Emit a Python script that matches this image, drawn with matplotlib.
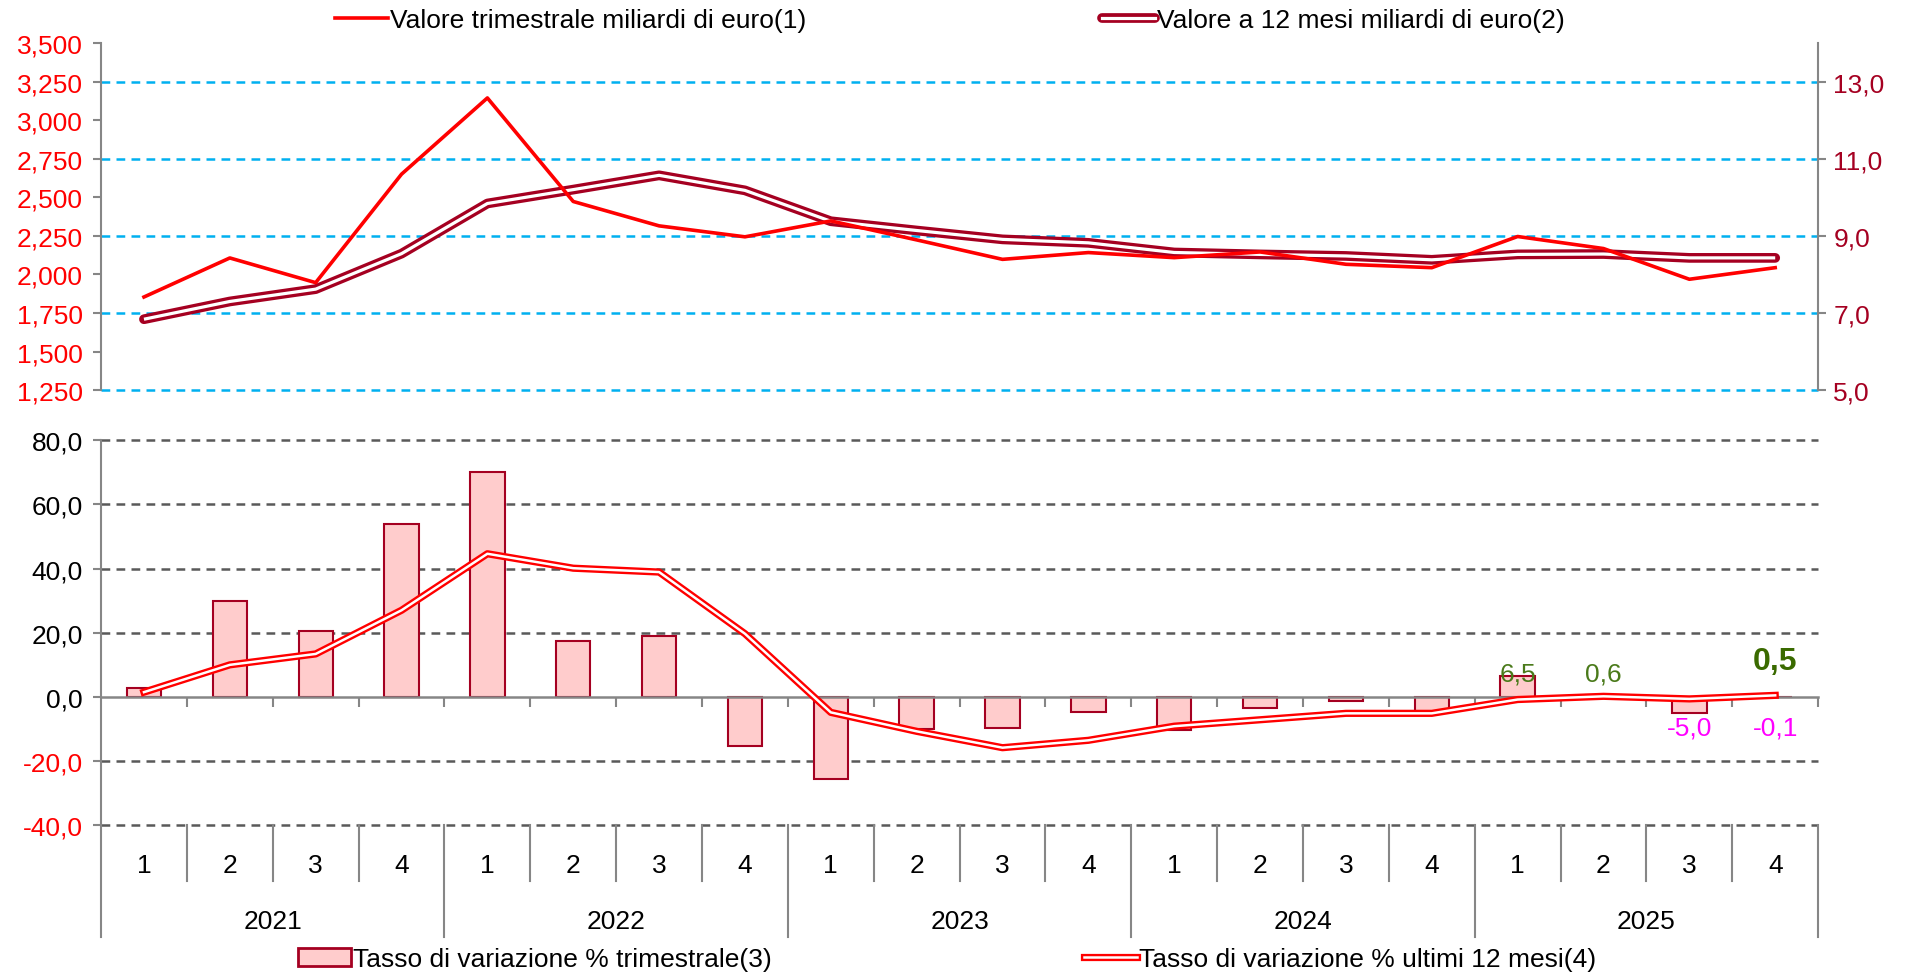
import numpy as np
import matplotlib
matplotlib.use('Agg')
import matplotlib.pyplot as plt
import matplotlib.transforms as mtransforms
from matplotlib.lines import Line2D
from matplotlib.patches import Patch
from matplotlib.ticker import FixedLocator, FuncFormatter

plt.rcParams['font.family'] = ['Liberation Sans Narrow', 'Liberation Sans', 'DejaVu Sans']

# data
years = ['2021', '2022', '2023', '2024', '2025']
quarters = ['1', '2', '3', '4'] * 5
val_trim = [1854, 2107, 1947, 2650, 3144, 2473, 2315, 2244, 2347, 2224,
            2098, 2142, 2109, 2146, 2066, 2044, 2246, 2168, 1969, 2044]
val_12m = [6.84, 7.30, 7.62, 8.54, 9.84, 10.20, 10.57, 10.18, 9.38, 9.14,
           8.91, 8.82, 8.57, 8.52, 8.48, 8.38, 8.52, 8.53, 8.43, 8.43]
var_trim = [2.8, 30.0, 20.5, 53.8, 70.1, 17.4, 18.9, -15.4, -25.5, -10.0,
            -9.6, -4.8, -10.4, -3.5, -1.4, -4.7, 6.5, 0.6, -5.0, -0.1]
var_12m = [1.5, 10.0, 13.4, 27.0, 44.6, 40.1, 38.9, 19.7, -4.8, -10.7,
           -15.8, -13.5, -9.1, -7.1, -5.1, -5.1, -0.8, 0.2, -0.6, 0.5]
leg_top = ['Valore trimestrale miliardi di euro(1)', 'Valore a 12 mesi miliardi di euro(2)']
leg_bot = ['Tasso di variazione % trimestrale(3)', 'Tasso di variazione % ultimi 12 mesi(4)']

RED = '#FF0000'
DARK = '#A50021'
PINK = '#FFCCCC'
GRAY = '#868686'
FS = 19

fig = plt.figure(figsize=(19.10, 9.78), dpi=100)
ax1 = fig.add_axes([0.0529, 0.600, 0.8990, 0.355])
ax1r = ax1.twinx()
ax2 = fig.add_axes([0.0529, 0.155, 0.8990, 0.394])
x = np.arange(len(quarters))

# ---- top panel
ax1.set_zorder(ax1r.get_zorder() + 1)
ax1.patch.set_visible(False)
ax1.set_xlim(-0.5, 19.5)
ax1.set_ylim(1250, 3500)
ax1r.set_ylim(5, 14)

for v in [5, 7, 9, 11, 13]:
    ax1r.axhline(v, color='#00B0F0', ls=(0, (3.5, 2.5)), lw=1.8, zorder=0, clip_on=False)

ax1r.plot(x, val_12m, color=DARK, lw=7, solid_capstyle='round', zorder=2)
ax1r.plot(x, val_12m, color='white', lw=2.3, solid_capstyle='butt', zorder=3)
ax1.plot(x, val_trim, color=RED, lw=2.6, zorder=3)

ax1.yaxis.set_major_locator(FixedLocator(np.arange(1250, 3501, 250)))
ax1.yaxis.set_major_formatter(FuncFormatter(lambda v, p: f'{v:,.0f}'))
ax1r.yaxis.set_major_locator(FixedLocator([5, 7, 9, 11, 13]))
ax1r.yaxis.set_major_formatter(FuncFormatter(lambda v, p: f'{v:.1f}'.replace('.', ',')))
ax1.tick_params(axis='y', colors=GRAY, labelcolor=RED, labelsize=FS, direction='out',
                length=6, width=1.5, pad=7)
ax1r.tick_params(axis='y', colors=GRAY, labelcolor=DARK, labelsize=FS, direction='out',
                 length=6, width=1.5, pad=5)
ax1.set_xticks([])
ax1r.set_xticks([])
for a in (ax1, ax1r):
    for s in ('top', 'bottom'):
        a.spines[s].set_visible(False)
ax1.spines['right'].set_visible(False)
ax1r.spines['left'].set_visible(False)
ax1.spines['left'].set_color(GRAY)
ax1.spines['left'].set_linewidth(1.5)
ax1r.spines['right'].set_color(GRAY)
ax1r.spines['right'].set_linewidth(1.5)

# ---- bottom panel
ax2.set_xlim(-0.5, 19.5)
ax2.set_ylim(-40, 80)
yt = np.arange(-40, 81, 20)
for v in yt:
    if v != 0:
        ax2.axhline(v, color='#595959', ls=(0, (3.5, 2.5)), lw=1.8, zorder=0, clip_on=False)

ax2.bar(x, var_trim, width=0.4, color=PINK, edgecolor=DARK, lw=1.5, zorder=2)
ax2.plot(x, var_12m, color=RED, lw=5.2, zorder=3)
ax2.plot(x, var_12m, color='white', lw=1.8, zorder=4)

ax2.set_yticks(yt)
ax2.set_yticklabels([f'{v:.1f}'.replace('.', ',') for v in yt])
ax2.tick_params(axis='y', colors=GRAY, labelsize=FS, direction='out', length=6, width=1.5, pad=7)
for lab, v in zip(ax2.get_yticklabels(), yt):
    lab.set_color(RED if v < 0 else 'black')

ax2.spines['bottom'].set_position(('data', 0))
ax2.spines['bottom'].set_color(GRAY)
ax2.spines['bottom'].set_linewidth(1.8)
ax2.spines['left'].set_color(GRAY)
ax2.spines['left'].set_linewidth(1.5)
ax2.spines['top'].set_visible(False)
ax2.spines['right'].set_visible(False)
ax2.set_xticks(np.arange(0.5, 20, 1))
ax2.set_xticklabels([])
ax2.tick_params(axis='x', colors=GRAY, direction='out', length=7, width=1.5)

# category axis below the plot
trans = mtransforms.blended_transform_factory(ax2.transData, ax2.transAxes)
for b in np.arange(-0.5, 20, 1):
    long_line = (b + 0.5) % 4 == 0
    ax2.plot([b, b], [0, -0.29 if long_line else -0.145], transform=trans,
             color=GRAY, lw=1.5, clip_on=False)
for i, q in enumerate(quarters):
    ax2.text(i, -0.103, q, transform=trans, ha='center', va='center', fontsize=FS)
for k, yr in enumerate(years):
    ax2.text(4 * k + 1.5, -0.247, yr, transform=trans, ha='center', va='center', fontsize=FS)

# data labels for the last year
GREEN = '#4A7A1A'
ax2.text(16, 7.3, '6,5', ha='center', va='center', color=GREEN, fontsize=FS, zorder=5)
ax2.text(17, 7.3, '0,6', ha='center', va='center', color=GREEN, fontsize=FS, zorder=5)
ax2.text(18, -9.4, '-5,0', ha='center', va='center', color='#FF00FF', fontsize=FS, zorder=5)
ax2.text(19, -9.4, '-0,1', ha='center', va='center', color='#FF00FF', fontsize=FS, zorder=5)
ax2.text(19, 11.2, '0,5', ha='center', va='center', color='#3A6A00', fontsize=FS + 4,
         fontweight='bold', zorder=5)

# ---- legends
h_trim = Line2D([], [], color=RED, lw=2.6)
h_12m = (Line2D([], [], color=DARK, lw=7, solid_capstyle='round'),
         Line2D([], [], color='white', lw=2.3))
h_bar = Patch(facecolor=PINK, edgecolor=DARK, lw=2)
h_rate = (Line2D([], [], color=RED, lw=5.2), Line2D([], [], color='white', lw=1.8))

kw = dict(frameon=False, fontsize=FS, borderpad=0, borderaxespad=0,
          handlelength=2.0, handletextpad=0.1, loc='center left')
fig.legend([h_trim], [leg_top[0]], bbox_to_anchor=(0.1754, 0.9785), **kw)
fig.legend([h_12m], [leg_top[1]], bbox_to_anchor=(0.577, 0.9785), **kw)
fig.legend([h_bar], [leg_bot[0]], bbox_to_anchor=(0.156, 0.0184), **kw)
fig.legend([h_rate], [leg_bot[1]], bbox_to_anchor=(0.5675, 0.0184), **kw)

fig.savefig('out.png', dpi=100)
